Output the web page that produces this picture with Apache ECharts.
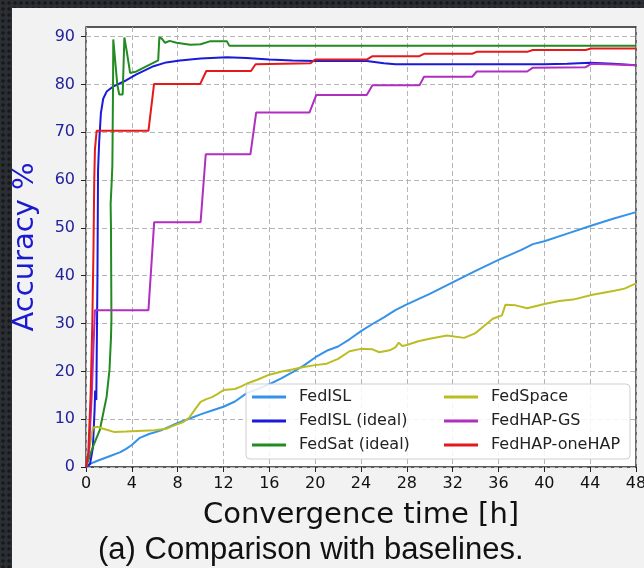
<!DOCTYPE html>
<html>
<head>
<meta charset="utf-8">
<script src="https://cdn.jsdelivr.net/npm/echarts@6/dist/echarts.min.js"></script>
<style>
html,body{margin:0;padding:0;width:644px;height:568px;overflow:hidden;}
body{background-color:#2b2e32;background-image:radial-gradient(circle,#17191c 1.4px,transparent 2px);background-size:6px 6px;position:relative;}
#chart{position:absolute;left:12px;top:8px;width:632px;height:560px;}
</style>
</head>
<body>
<div id="chart"></div>
<script>
// ---- data (time in hours, accuracy in %) ----
const fedISL_t   = [0,0.3,1,2,3,3.5,4,4.7,5.5,6.5,8,9,10,11,12,13,14,15,16,17,18,19,20,21,22,23,24,25,26,27,28,30,32,34,36,38,39,40,42,44,46,48];
const fedISL_acc = [0,0.6,1.3,2.2,3.1,3.8,4.6,6.1,6.9,7.6,9.2,10.1,11,11.8,12.6,13.7,15.4,16.3,17.3,18.5,19.8,21.2,22.9,24.3,25.2,26.7,28.4,29.9,31.3,32.8,34,36.2,38.6,41,43.3,45.4,46.6,47.2,48.8,50.4,51.9,53.3];

const fedISLIdeal_t   = [0,0.35,0.6,0.75,0.8,0.9,1.0,1.05,1.15,1.3,1.5,1.8,2.4,3.3,4.4,5.9,7,8.2,10,12.3,14,16,18,20,24.5,26,27,36,40,42,44,46,48];
const fedISLIdeal_acc = [0,0.6,4,12,16,14,40,62,68,74,77,78.5,79.6,80.6,82.1,83.8,84.6,85,85.4,85.7,85.5,85.2,85,84.9,84.9,84.4,84.2,84.2,84.2,84.3,84.5,84.3,84];

const fedSat_t   = [0,0.2,0.6,1.2,1.8,2.05,2.18,2.22,2.2,2.18,2.15,2.25,2.3,2.32,2.36,2.38,2.5,2.73,2.9,3.2,3.35,3.55,3.85,4.4,5.3,6.3,6.4,6.6,6.9,7.3,7.9,9.1,10,10.8,12.3,12.5,48];
const fedSat_acc = [0,1.4,4.2,7.7,14.7,20.3,27,31,40,50,55,60,63,68,80,89.4,89,80,77.9,77.9,89.8,87,82.4,82.7,83.8,85,89.8,89.6,88.7,89.1,88.7,88.3,88.4,89,89,88.1,88.1];

const fedSpace_t   = [0,0.3,0.6,1,1.5,2.5,3.5,5,6,7,7.6,8.5,9,9.5,10,10.5,11,11.5,12,13,13.5,14,15,16,17,18,19,20,21,22,23,24,25,25.6,26.5,27,27.3,27.6,28,29,30,31.5,33,34,35,35.5,36.3,36.6,37.5,38.5,40,41.3,42.5,44.2,46,47,48];
const fedSpace_acc = [0,4,8.2,8.4,8,7.3,7.4,7.6,7.7,8,8.6,9.4,10.3,12,13.6,14.2,14.6,15.3,16.1,16.3,16.8,17.4,18.3,19.3,19.9,20.4,20.9,21.3,21.6,22.6,24.2,24.7,24.6,24,24.4,25,26,25.3,25.5,26.3,26.8,27.5,27,28,30,31,31.7,33.9,33.8,33.2,34.1,34.7,35,36,36.8,37.3,38.4];

const fedHAPGS_t   = [0,0.25,0.5,0.65,0.78,5.45,5.95,10.0,10.45,14.35,14.85,19.5,20.1,24.5,25.0,29.1,29.5,33.7,34.1,38.5,39.0,43.6,44.1,48];
const fedHAPGS_acc = [0,3,15,25,32.8,32.8,51.2,51.2,65.4,65.4,74.1,74.1,77.8,77.8,79.8,79.8,81.6,81.6,82.7,82.7,83.5,83.6,84.3,84.0];

const fedHAPOne_t   = [0,0.2,0.4,0.55,0.65,0.72,0.78,0.93,5.45,5.94,9.97,10.5,14.4,14.8,19.6,20.0,24.5,25.0,29.1,29.5,33.7,34.1,38.5,39.0,43.6,44.1,48];
const fedHAPOne_acc = [0,3,15,30,45,60,66.4,70.3,70.3,80.1,80.1,82.8,82.8,84.2,84.4,85.2,85.2,85.9,85.9,86.4,86.4,86.8,86.8,87.2,87.2,87.5,87.5];

const seriesNames  = ['FedISL','FedISL (ideal)','FedSat (ideal)','FedSpace','FedHAP-GS','FedHAP-oneHAP'];
const seriesColors = ['#3592e8','#1a1ad8','#228b22','#bcbd22','#b02ec0','#e31a1c'];
const yTicks = [0,10,20,30,40,50,60,70,80,90];

const zip = (t, a) => t.map((v, i) => [v, a[i]]);
const seriesData = [
  zip(fedISL_t, fedISL_acc),
  zip(fedISLIdeal_t, fedISLIdeal_acc),
  zip(fedSat_t, fedSat_acc),
  zip(fedSpace_t, fedSpace_acc),
  zip(fedHAPGS_t, fedHAPGS_acc),
  zip(fedHAPOne_t, fedHAPOne_acc)
];

const FONT = 'DejaVu Sans';
const chart = echarts.init(document.getElementById('chart'), null, {renderer: 'canvas'});
const gridDash = {color: '#b4b4b4', width: 1, type: [5, 3]};
const legendCommon = {
  orient: 'vertical', top: 381, padding: 0,
  icon: 'rect', itemWidth: 34, itemHeight: 3, itemGap: 8, z: 60,
  textStyle: {fontFamily: FONT, fontSize: 16, color: '#222', lineHeight: 16, padding: [0, 0, 0, 8]}
};

chart.setOption({
  backgroundColor: '#f2f2f2',
  animation: false,
  title: {
    text: '(a) Comparison with baselines.',
    left: 86, top: 527, padding: 0,
    textStyle: {fontFamily: 'Liberation Sans', fontSize: 31, fontWeight: 'normal', color: '#111'}
  },
  grid: {left: 74, top: 19, width: 550, height: 440, outerBoundsMode: 'none', containLabel: false,
         show: true, backgroundColor: '#ffffff', borderColor: '#222', borderWidth: 1.3},
  xAxis: {
    type: 'value', min: 0, max: 48, interval: 4,
    name: 'Convergence time [h]', nameLocation: 'middle', nameGap: 34,
    nameTextStyle: {fontFamily: FONT, fontSize: 29, color: '#111'},
    axisLine: {show: false},
    axisTick: {show: true, length: 5, lineStyle: {color: '#222', width: 1}},
    axisLabel: {fontFamily: FONT, fontSize: 16, color: '#111', margin: 9},
    splitLine: {show: true, lineStyle: gridDash}
  },
  yAxis: {
    type: 'value', min: 0, max: 92, interval: 10,
    name: 'Accuracy %', nameLocation: 'middle', nameGap: 46, nameRotate: 90,
    nameTextStyle: {fontFamily: FONT, fontSize: 29, color: '#1a1ad0'},
    axisLine: {show: false},
    axisTick: {show: true, length: 5, customValues: yTicks, lineStyle: {color: '#222', width: 1}},
    axisLabel: {fontFamily: FONT, fontSize: 16, color: '#22229c', margin: 11, customValues: yTicks},
    splitLine: {show: true, lineStyle: gridDash}
  },
  graphic: [{
    type: 'rect', z: 50,
    shape: {x: 234, y: 376, width: 384, height: 75, r: 4},
    style: {fill: 'rgba(255,255,255,0.85)', stroke: '#cfcfcf', lineWidth: 1}
  }],
  legend: [
    Object.assign({data: seriesNames.slice(0, 3), left: 240}, legendCommon),
    Object.assign({data: seriesNames.slice(3), left: 432}, legendCommon)
  ],
  series: seriesNames.map((n, i) => ({
    name: n, type: 'line', data: seriesData[i],
    symbol: 'none', smooth: false,
    lineStyle: {color: seriesColors[i], width: 2},
    itemStyle: {color: seriesColors[i]},
    z: 2 + i
  }))
});
</script>
</body>
</html>
